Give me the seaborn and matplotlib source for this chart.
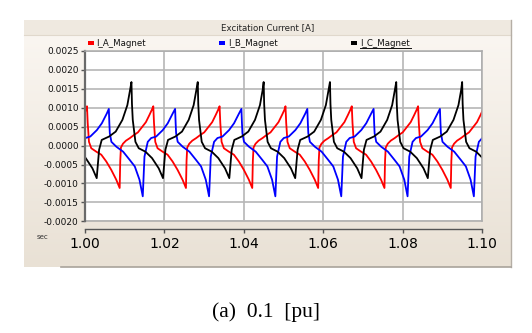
import numpy as np
import pandas as pd
import matplotlib
matplotlib.use("Agg")
import matplotlib.pyplot as plt
import seaborn as sns
from matplotlib.patches import Rectangle
from matplotlib.colors import LinearSegmentedColormap

# ---------------- data ----------------
series_names = ["I_A_Magnet", "I_B_Magnet", "I_C_Magnet"]
series_colors = ["#FF0000", "#0000FF", "#000000"]

# one cycle of each waveform: offsets from the cycle's peak (ms) and values (A)
red_offsets_ms = [0.0, 0.18, 0.50, 1.08, 2.34, 3.60, 4.86, 6.11, 7.37, 8.23, 8.38, 8.55,
                  9.06, 9.81, 10.82, 11.83, 12.83, 13.96, 14.84, 15.73, 16.35]
red_values = [0.00104, 0.0006, 0.0001, -0.00007, -0.00016, -0.00024, -0.00042, -0.00064,
              -0.0009, -0.00112, -0.0004, -0.00005, 0.00005, 0.00013, 0.0002, 0.00028,
              0.00035, 0.0005, 0.00062, 0.00081, 0.00095]

blue_offsets_ms = [0.0, 0.13, 0.25, 0.65, 1.91, 3.60, 5.28, 6.54, 7.72, 8.55, 8.98, 9.81,
                   10.67, 11.93, 13.59, 14.84, 16.10]
blue_values = [0.00097, 0.0006, 0.00033, 0.0001, -0.00003, -0.00016, -0.00038, -0.00055,
               -0.0009, -0.00134, -0.00029, 0.0001, 0.0002, 0.00024, 0.00041, 0.00059, 0.00085]

black_offsets_ms = [0.0, 0.13, 0.33, 1.00, 1.84, 3.52, 5.18, 6.87, 7.95, 8.55, 9.21, 11.07,
                    12.73, 14.42, 15.67, 16.35]
black_values = [0.00168, 0.0011, 0.00068, 0.0001, -0.00007, -0.00016, -0.00033, -0.0006,
                -0.00086, -0.00011, 0.00015, 0.00024, 0.00037, 0.00068, 0.00107, 0.00147]

# peak times of each cycle (s)
red_peak_times = [0.9839, 1.0005, 1.0172, 1.0339, 1.0505, 1.0672, 1.0839]
blue_peak_times = [0.9894, 1.0060, 1.0227, 1.0394, 1.0560, 1.0727, 1.0894]
black_peak_times = [0.9950, 1.0117, 1.0284, 1.0450, 1.0617, 1.0784, 1.0950]

xtick_vals = [1.00, 1.02, 1.04, 1.06, 1.08, 1.10]
xtick_labels = ["1.00", "1.02", "1.04", "1.06", "1.08", "1.10"]
ytick_vals = [-0.0020, -0.0015, -0.0010, -0.0005, 0.0, 0.0005, 0.0010, 0.0015, 0.0020, 0.0025]
ytick_labels = ["-0.0020", "-0.0015", "-0.0010", "-0.0005", "0.0000", "0.0005",
                "0.0010", "0.0015", "0.0020", "0.0025"]

# ---------------- build long table ----------------
frames = []
for name, offs, vals, peaks in [
    (series_names[0], red_offsets_ms, red_values, red_peak_times),
    (series_names[1], blue_offsets_ms, blue_values, blue_peak_times),
    (series_names[2], black_offsets_ms, black_values, black_peak_times),
]:
    t = np.concatenate([p + np.array(offs) / 1000.0 for p in peaks])
    v = np.tile(np.array(vals), len(peaks))
    frames.append(pd.DataFrame({"t": t, "value": v, "series": name}))
df = pd.concat(frames, ignore_index=True)

# ---------------- figure ----------------
W, H = 532, 333
fig = plt.figure(figsize=(W / 100, H / 100), dpi=100)
fig.patch.set_facecolor("white")

bg = fig.add_axes([0, 0, 1, 1])
bg.set_xlim(0, W)
bg.set_ylim(H, 0)
bg.axis("off")
bg.set_zorder(0)

cmap = LinearSegmentedColormap.from_list("panel", ["#FAF6F1", "#E9E1D5"])
grad = np.linspace(0, 1, 200).reshape(-1, 1)
bg.imshow(grad, extent=(24, 511, 267, 35), aspect="auto", cmap=cmap, origin="upper")
bg.add_patch(Rectangle((24, 20), 487, 15, facecolor="#EFE9E0", edgecolor="none"))
bg.plot([24, 511], [35, 35], color="#E0D8CC", lw=0.8)
bg.plot([511, 511], [20, 267], color="#B5AEA5", lw=1.0)
bg.plot([61, 511], [267, 267], color="#A9A39B", lw=1.2)
bg.set_xlim(0, W)
bg.set_ylim(H, 0)

bg.text(268, 28, "Excitation Current [A]", ha="center", va="center", fontsize=6.2, color="#222222")

legend_pos = [(87.5, 96.5), (219.0, 228.5), (351.0, 360.0)]
for (mx, tx), name, col in zip(legend_pos, series_names, series_colors):
    bg.add_patch(Rectangle((mx, 41.3), 6, 4, facecolor=col, edgecolor="none"))
    bg.text(tx, 43.5, name, ha="left", va="center", fontsize=6.2, color="#111111")
bg.plot([360, 410.5], [48.3, 48.3], color="#111111", lw=0.7)

bg.text(43, 237, "sec", ha="center", va="center", fontsize=5, color="#333333")
bg.text(266, 312, "(a)  0.1  [pu]", ha="center", va="center", fontsize=15.5,
        family="Liberation Serif", color="#000000")

# main plot area
ax = fig.add_axes([85 / W, 1 - 221.3 / H, 397 / W, 170.3 / H])
ax.set_zorder(1)
ax.set_facecolor("white")

sns.lineplot(data=df, x="t", y="value", hue="series", hue_order=series_names,
             palette=dict(zip(series_names, series_colors)), estimator=None,
             sort=False, legend=False, linewidth=1.3, ax=ax)

ax.set_xlim(1.0, 1.1)
ax.set_ylim(-0.0020, 0.0025)
ax.set_xticks(xtick_vals)
ax.set_xticklabels(xtick_labels, fontsize=11, color="#111111")
ax.set_yticks(ytick_vals)
ax.set_yticklabels(ytick_labels, fontsize=6.5, color="#111111")
ax.set_xlabel("")
ax.set_ylabel("")
ax.grid(True, color="#B6B6B6", lw=1.2)
ax.set_axisbelow(True)
ax.tick_params(axis="y", length=3, width=1, color="#555555", pad=1.5)
ax.tick_params(axis="x", length=3, width=1, color="#555555", pad=3, direction="out")

ax.spines["left"].set_color("#6A6A6A")
ax.spines["left"].set_linewidth(1.6)
for s in ["top", "right"]:
    ax.spines[s].set_color("#ABABAB")
    ax.spines[s].set_linewidth(1.1)
ax.spines["bottom"].set_position(("outward", 5.3))
ax.spines["bottom"].set_color("#555555")
ax.spines["bottom"].set_linewidth(1.0)
ax.axhline(-0.0020, color="#ABABAB", lw=1.1, clip_on=False, zorder=0.5)

fig.savefig("out.png", dpi=100)
